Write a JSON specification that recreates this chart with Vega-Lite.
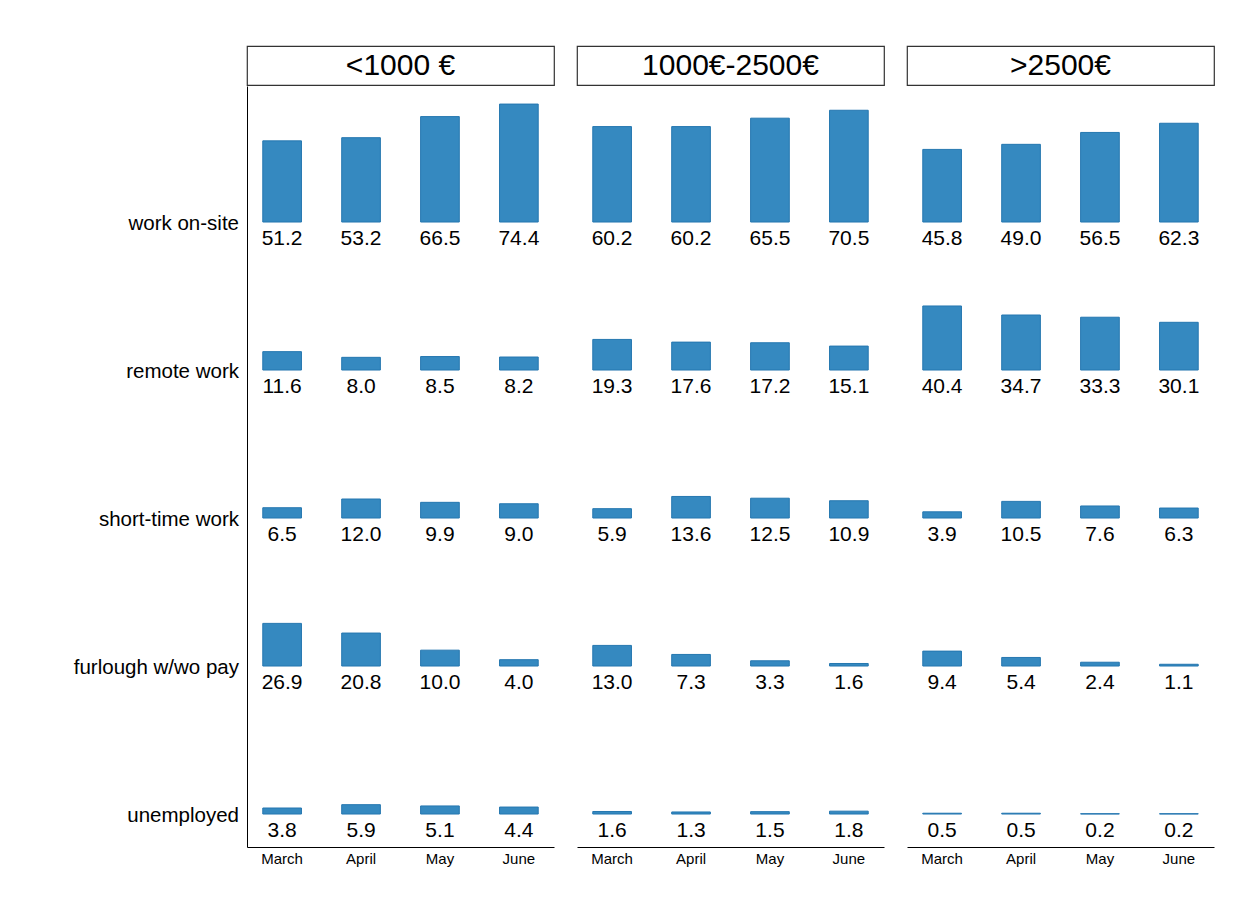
{
  "$schema": "https://vega.github.io/schema/vega-lite/v6.json",
  "padding": {"left": 73, "top": 45, "right": 20, "bottom": 20},
  "background": "white",
  "config": {
    "font": "Liberation Sans",
    "view": {"stroke": null},
    "axis": {"labelFont": "Liberation Sans", "grid": false}
  },
  "datasets": {
    "survey": [
      {"income": "<1000 €", "status": "work on-site", "month": "March", "value": 51.2},
      {"income": "<1000 €", "status": "work on-site", "month": "April", "value": 53.2},
      {"income": "<1000 €", "status": "work on-site", "month": "May", "value": 66.5},
      {"income": "<1000 €", "status": "work on-site", "month": "June", "value": 74.4},
      {"income": "<1000 €", "status": "remote work", "month": "March", "value": 11.6},
      {"income": "<1000 €", "status": "remote work", "month": "April", "value": 8.0},
      {"income": "<1000 €", "status": "remote work", "month": "May", "value": 8.5},
      {"income": "<1000 €", "status": "remote work", "month": "June", "value": 8.2},
      {"income": "<1000 €", "status": "short-time work", "month": "March", "value": 6.5},
      {"income": "<1000 €", "status": "short-time work", "month": "April", "value": 12.0},
      {"income": "<1000 €", "status": "short-time work", "month": "May", "value": 9.9},
      {"income": "<1000 €", "status": "short-time work", "month": "June", "value": 9.0},
      {"income": "<1000 €", "status": "furlough w/wo pay", "month": "March", "value": 26.9},
      {"income": "<1000 €", "status": "furlough w/wo pay", "month": "April", "value": 20.8},
      {"income": "<1000 €", "status": "furlough w/wo pay", "month": "May", "value": 10.0},
      {"income": "<1000 €", "status": "furlough w/wo pay", "month": "June", "value": 4.0},
      {"income": "<1000 €", "status": "unemployed", "month": "March", "value": 3.8},
      {"income": "<1000 €", "status": "unemployed", "month": "April", "value": 5.9},
      {"income": "<1000 €", "status": "unemployed", "month": "May", "value": 5.1},
      {"income": "<1000 €", "status": "unemployed", "month": "June", "value": 4.4},
      {"income": "1000€-2500€", "status": "work on-site", "month": "March", "value": 60.2},
      {"income": "1000€-2500€", "status": "work on-site", "month": "April", "value": 60.2},
      {"income": "1000€-2500€", "status": "work on-site", "month": "May", "value": 65.5},
      {"income": "1000€-2500€", "status": "work on-site", "month": "June", "value": 70.5},
      {"income": "1000€-2500€", "status": "remote work", "month": "March", "value": 19.3},
      {"income": "1000€-2500€", "status": "remote work", "month": "April", "value": 17.6},
      {"income": "1000€-2500€", "status": "remote work", "month": "May", "value": 17.2},
      {"income": "1000€-2500€", "status": "remote work", "month": "June", "value": 15.1},
      {"income": "1000€-2500€", "status": "short-time work", "month": "March", "value": 5.9},
      {"income": "1000€-2500€", "status": "short-time work", "month": "April", "value": 13.6},
      {"income": "1000€-2500€", "status": "short-time work", "month": "May", "value": 12.5},
      {"income": "1000€-2500€", "status": "short-time work", "month": "June", "value": 10.9},
      {"income": "1000€-2500€", "status": "furlough w/wo pay", "month": "March", "value": 13.0},
      {"income": "1000€-2500€", "status": "furlough w/wo pay", "month": "April", "value": 7.3},
      {"income": "1000€-2500€", "status": "furlough w/wo pay", "month": "May", "value": 3.3},
      {"income": "1000€-2500€", "status": "furlough w/wo pay", "month": "June", "value": 1.6},
      {"income": "1000€-2500€", "status": "unemployed", "month": "March", "value": 1.6},
      {"income": "1000€-2500€", "status": "unemployed", "month": "April", "value": 1.3},
      {"income": "1000€-2500€", "status": "unemployed", "month": "May", "value": 1.5},
      {"income": "1000€-2500€", "status": "unemployed", "month": "June", "value": 1.8},
      {"income": ">2500€", "status": "work on-site", "month": "March", "value": 45.8},
      {"income": ">2500€", "status": "work on-site", "month": "April", "value": 49.0},
      {"income": ">2500€", "status": "work on-site", "month": "May", "value": 56.5},
      {"income": ">2500€", "status": "work on-site", "month": "June", "value": 62.3},
      {"income": ">2500€", "status": "remote work", "month": "March", "value": 40.4},
      {"income": ">2500€", "status": "remote work", "month": "April", "value": 34.7},
      {"income": ">2500€", "status": "remote work", "month": "May", "value": 33.3},
      {"income": ">2500€", "status": "remote work", "month": "June", "value": 30.1},
      {"income": ">2500€", "status": "short-time work", "month": "March", "value": 3.9},
      {"income": ">2500€", "status": "short-time work", "month": "April", "value": 10.5},
      {"income": ">2500€", "status": "short-time work", "month": "May", "value": 7.6},
      {"income": ">2500€", "status": "short-time work", "month": "June", "value": 6.3},
      {"income": ">2500€", "status": "furlough w/wo pay", "month": "March", "value": 9.4},
      {"income": ">2500€", "status": "furlough w/wo pay", "month": "April", "value": 5.4},
      {"income": ">2500€", "status": "furlough w/wo pay", "month": "May", "value": 2.4},
      {"income": ">2500€", "status": "furlough w/wo pay", "month": "June", "value": 1.1},
      {"income": ">2500€", "status": "unemployed", "month": "March", "value": 0.5},
      {"income": ">2500€", "status": "unemployed", "month": "April", "value": 0.5},
      {"income": ">2500€", "status": "unemployed", "month": "May", "value": 0.2},
      {"income": ">2500€", "status": "unemployed", "month": "June", "value": 0.2}
    ]
  },
  "spacing": 0,
  "vconcat": [
    {
      "spacing": 23,
      "bounds": "flush",
      "hconcat": [
        {
          "data": {"values": [{"income": "<1000 €"}]},
          "width": 307,
          "height": 39,
          "view": {"stroke": "#333333", "strokeWidth": 1.2},
          "mark": {"type": "text", "fontSize": 30, "color": "black", "font": "Liberation Sans"},
          "encoding": {
            "text": {"field": "income"},
            "y": {"field": "income", "type": "nominal", "axis": null}
          }
        },
        {
          "data": {"values": [{"income": "1000€-2500€"}]},
          "width": 307,
          "height": 39,
          "view": {"stroke": "#333333", "strokeWidth": 1.2},
          "mark": {"type": "text", "fontSize": 30, "color": "black", "font": "Liberation Sans"},
          "encoding": {
            "text": {"field": "income"},
            "y": {"field": "income", "type": "nominal", "axis": null}
          }
        },
        {
          "data": {"values": [{"income": ">2500€"}]},
          "width": 307,
          "height": 39,
          "view": {"stroke": "#333333", "strokeWidth": 1.2},
          "mark": {"type": "text", "fontSize": 30, "color": "black", "font": "Liberation Sans"},
          "encoding": {
            "text": {"field": "income"},
            "y": {"field": "income", "type": "nominal", "axis": null}
          }
        }
      ]
    },
    {
      "data": {"name": "survey"},
      "spacing": {"row": 0, "column": 23},
      "bounds": "flush",
      "facet": {
        "row": {
          "field": "status",
          "type": "nominal",
          "sort": ["work on-site", "remote work", "short-time work", "furlough w/wo pay", "unemployed"],
          "header": {"title": null, "labelAngle": 0, "labelAlign": "left", "labelAnchor": "start", "labelBaseline": "bottom", "labelFontSize": 20.5, "labelFont": "Liberation Sans", "labelColor": "black", "labelPadding": 8}
        },
        "column": {
          "field": "income",
          "type": "nominal",
          "sort": ["<1000 €", "1000€-2500€", ">2500€"],
          "header": null
        }
      },
      "spec": {
        "width": 307,
        "height": 148,
        "encoding": {
          "x": {
            "field": "month",
            "type": "ordinal",
            "sort": ["March", "April", "May", "June"],
            "scale": {"paddingInner": 0.51, "paddingOuter": 0.2},
            "axis": {"title": null, "labelAngle": 0, "ticks": false, "domainColor": "black", "domainWidth": 1, "labelFontSize": 15, "labelColor": "black", "offset": 21, "labelPadding": 4}
          }
        },
        "layer": [
          {
            "mark": {"type": "bar", "fill": "#3589c0", "stroke": "#2577b0", "strokeWidth": 1},
            "encoding": {
              "y": {
                "field": "value",
                "type": "quantitative",
                "scale": {"domain": [-20.8, 85.8], "range": [169, 0], "nice": false},
                "axis": {"title": null, "labels": false, "ticks": false, "domainColor": "black", "domainWidth": 1}
              }
            }
          },
          {
            "mark": {"type": "text", "fontSize": 21, "dy": 16.5, "baseline": "middle", "color": "black", "font": "Liberation Sans"},
            "encoding": {
              "y": {"datum": 0},
              "text": {"field": "value", "type": "quantitative", "format": ".1f"}
            }
          }
        ]
      }
    }
  ]
}
